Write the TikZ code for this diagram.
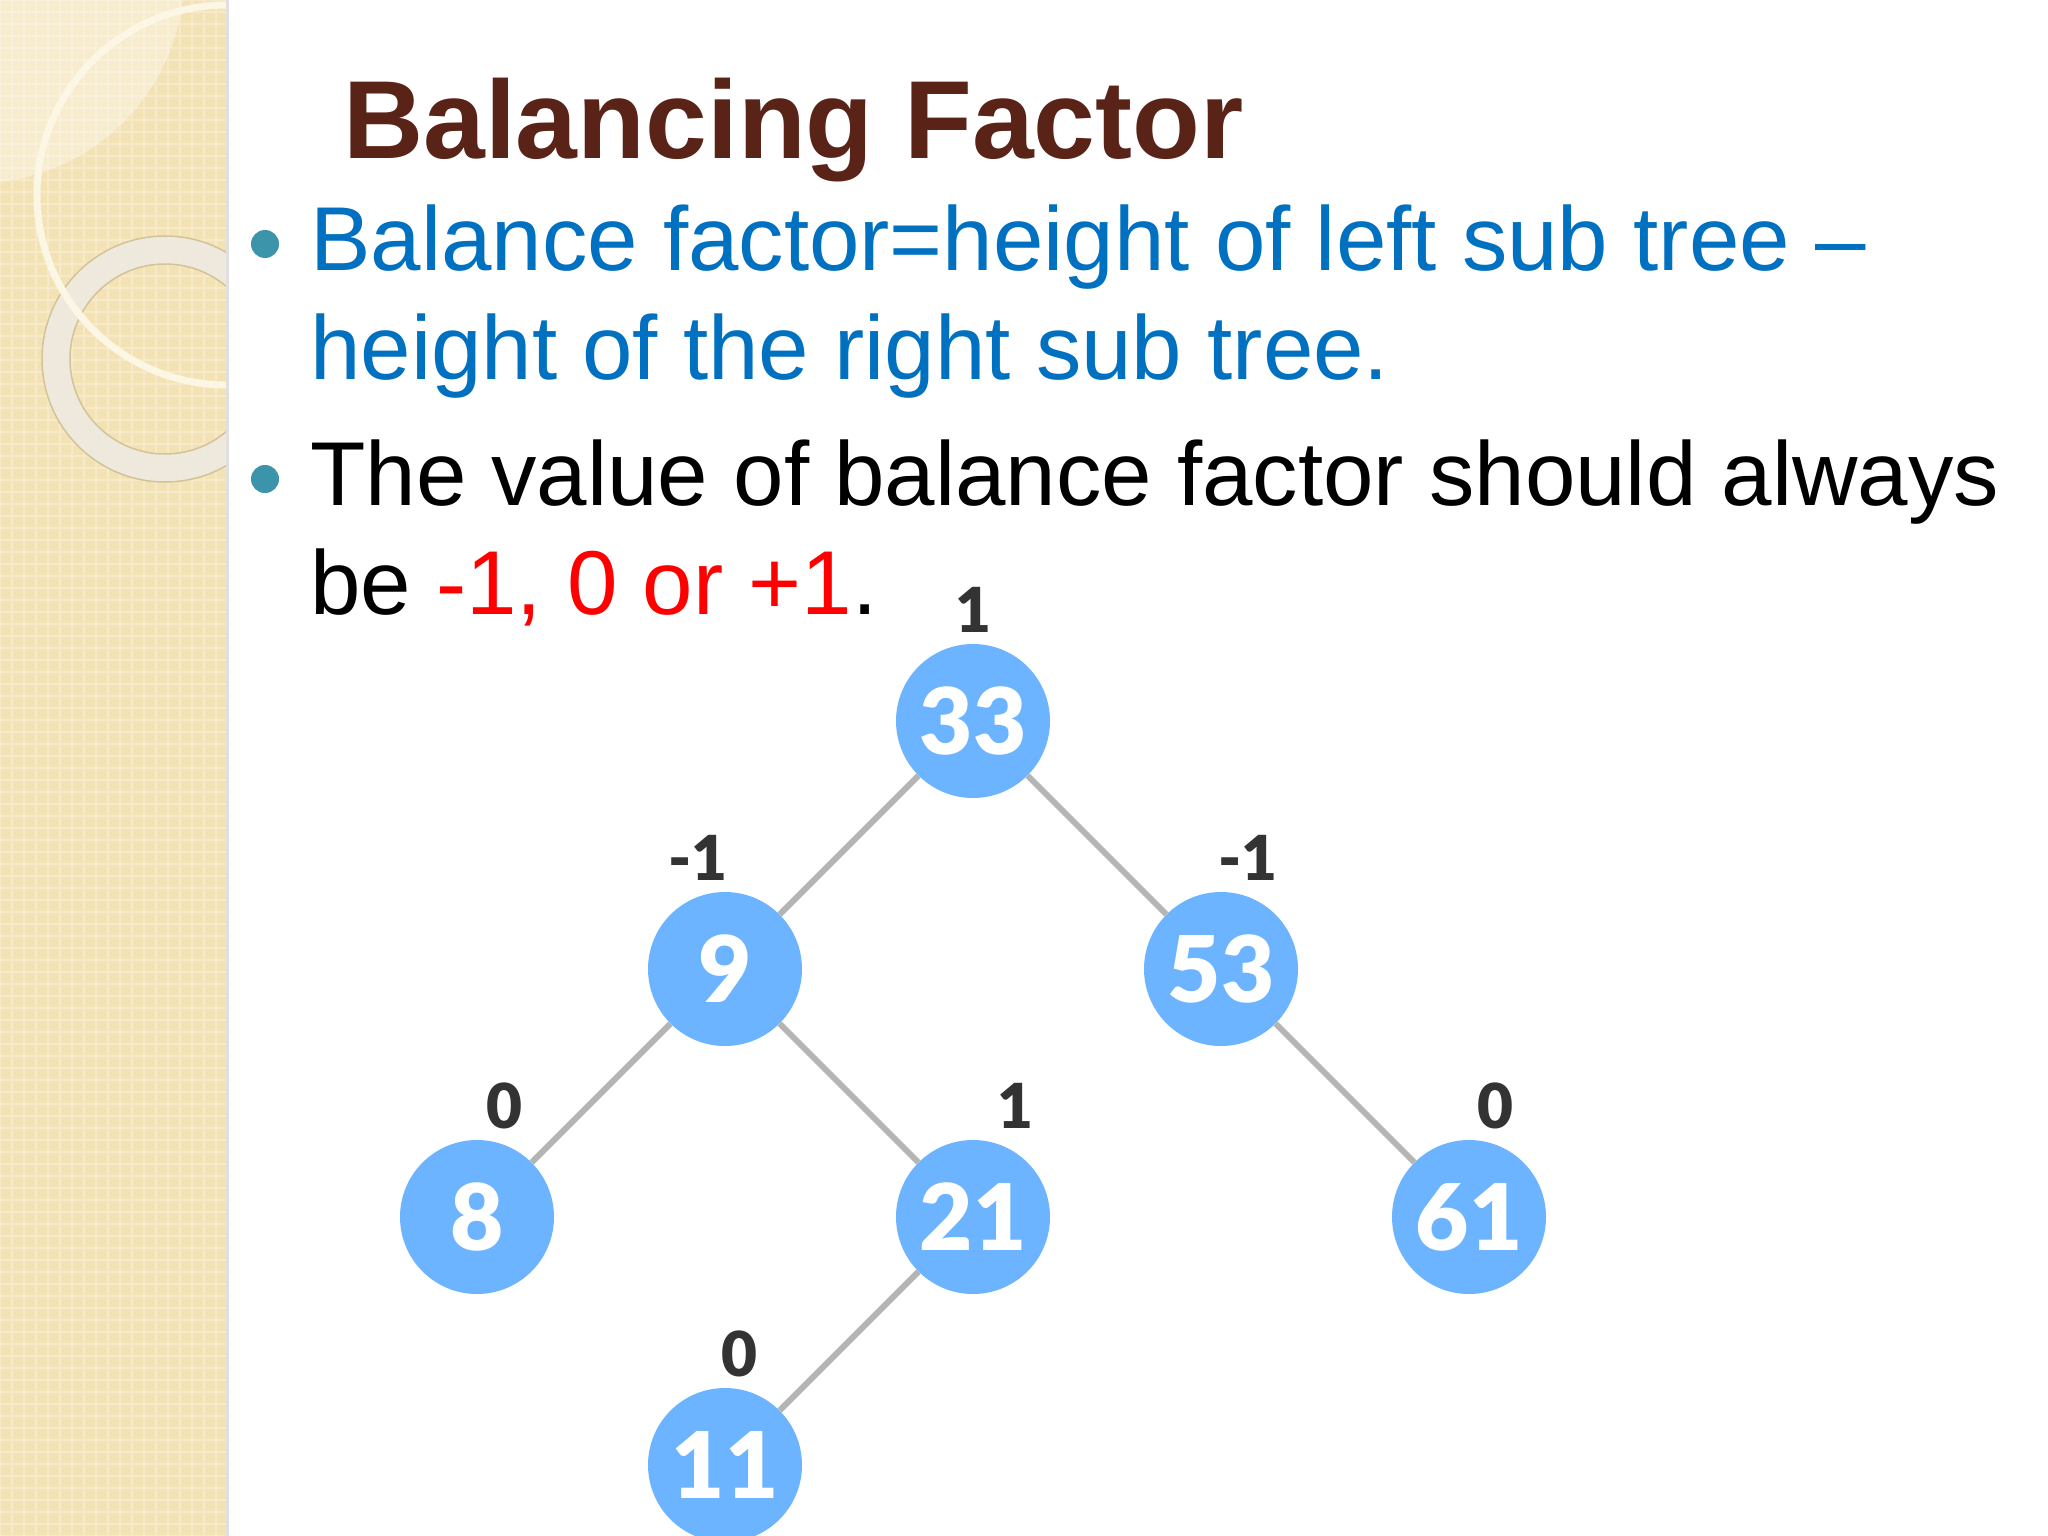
\documentclass[tikz,border=0pt]{standalone}
\usepackage{fontspec}
\setmainfont{Liberation Sans}
\IfFontExistsTF{Lato Black}{\newfontfamily\numfont{Lato}[BoldFont={Lato Black}]}{\newfontfamily\numfont{Lato}}
\usepackage{tikz}
\usetikzlibrary{calc}
\definecolor{titlebrown}{HTML}{5A2317}
\definecolor{textblue}{HTML}{0070C0}
\definecolor{bulletteal}{HTML}{3C94AA}
\definecolor{nodeblue}{HTML}{6CB4FF}
\definecolor{edgegray}{HTML}{B4B4B4}
\definecolor{bfgray}{HTML}{333333}
\definecolor{stripbeige}{HTML}{F3E3B4}
\definecolor{stripline}{HTML}{F6EACA}
\definecolor{ringcream}{HTML}{EEEAE0}
\definecolor{ringedge}{HTML}{D3C399}
\definecolor{hoopcream}{HTML}{FCF6E4}
\tikzset{
	avl/.style={circle, fill=nodeblue, minimum size=154, inner sep=0, text=white,
		font=\numfont\bfseries\fontsize{92}{92}\selectfont},
	bal/.style={inner sep=0, text=bfgray, font=\numfont\bfseries\fontsize{62}{62}\selectfont},
	branch/.style={draw=edgegray, line width=6},
	bodyline/.style={anchor=base west, inner sep=0, font=\fontsize{90.7}{108}\selectfont},
}

\begin{document}
\begin{tikzpicture}[x=1pt, y=-1pt]
		%%%%% START %%%%%
		\useasboundingbox (0,0) rectangle (2048,1536);
		\clip (0,0) rectangle (2048,1536);
		\fill[white] (0,0) rectangle (2048,1536);
		
		% beige strip on the left
		\begin{scope}
			\clip (0,0) rectangle (226,1536);
			\fill[stripbeige] (0,0) rectangle (226,1536);
			\foreach \gx in {0,12,...,228}
				\draw[stripline, line width=1.5] (\gx,0) -- (\gx,1536);
			\foreach \gy in {0,12,...,1536}
				\draw[stripline, line width=1.5] (0,\gy) -- (226,\gy);
			\fill[white, opacity=0.35] (-23,-24) circle (207);
			\fill[ringcream, opacity=0.92, even odd rule] (165,359) circle (123) (165,359) circle (95);
			\draw[ringedge, line width=1.5] (165,359) circle (123);
			\draw[ringedge, line width=1.5] (165,359) circle (95);
			\draw[hoopcream, line width=7] (227,195) circle (190);
		\end{scope}
		\fill[black!12] (226,0) rectangle (229,1536);
		
		% title and bullets
		\node[anchor=base west, inner sep=0, text=titlebrown, font=\bfseries\fontsize{111}{132}\selectfont] (title) at (343,159) {Balancing Factor};
		
		\fill[bulletteal] (265,244) circle (14);
		\node[bodyline, text=textblue] (def1) at (310,270) {Balance factor=height of left sub tree –};
		\node[bodyline, text=textblue] (def2) at (310,379) {height of the right sub tree.};
		
		\fill[bulletteal] (265,479) circle (14);
		\node[bodyline] (rule1) at (310,505) {The value of balance factor should always};
		\node[bodyline] (rule2) at (310,614) {be \textcolor{red}{-1, 0 or +1}.};
		
		% AVL tree
		\node[avl] (n33) at (973,721) {33};
		\node[avl] (n9) at (725,969) {9};
		\node[avl] (n53) at (1221,969) {53};
		\node[avl] (n8) at (477,1217) {8};
		\node[avl] (n21) at (973,1217) {21};
		\node[avl] (n61) at (1469,1217) {61};
		\node[avl] (n11) at (725,1465) {11};
		
		\draw[branch] (n33) -- (n9);
		\draw[branch] (n33) -- (n53);
		\draw[branch] (n9) -- (n8);
		\draw[branch] (n9) -- (n21);
		\draw[branch] (n53) -- (n61);
		\draw[branch] (n21) -- (n11);
		
		% balance factors
		\node[bal] (b33) at ($(n33)+(0,-111)$) {1};
		\node[bal] (b9) at ($(n9)+(-27,-111)$) {-1};
		\node[bal] (b53) at ($(n53)+(27,-111)$) {-1};
		\node[bal] (b8) at ($(n8)+(27,-111)$) {0};
		\node[bal] (b21) at ($(n21)+(42,-111)$) {1};
		\node[bal] (b61) at ($(n61)+(26,-111)$) {0};
		\node[bal] (b11) at ($(n11)+(14,-111)$) {0};
		%%%%% END %%%%%
\end{tikzpicture}
\end{document}
